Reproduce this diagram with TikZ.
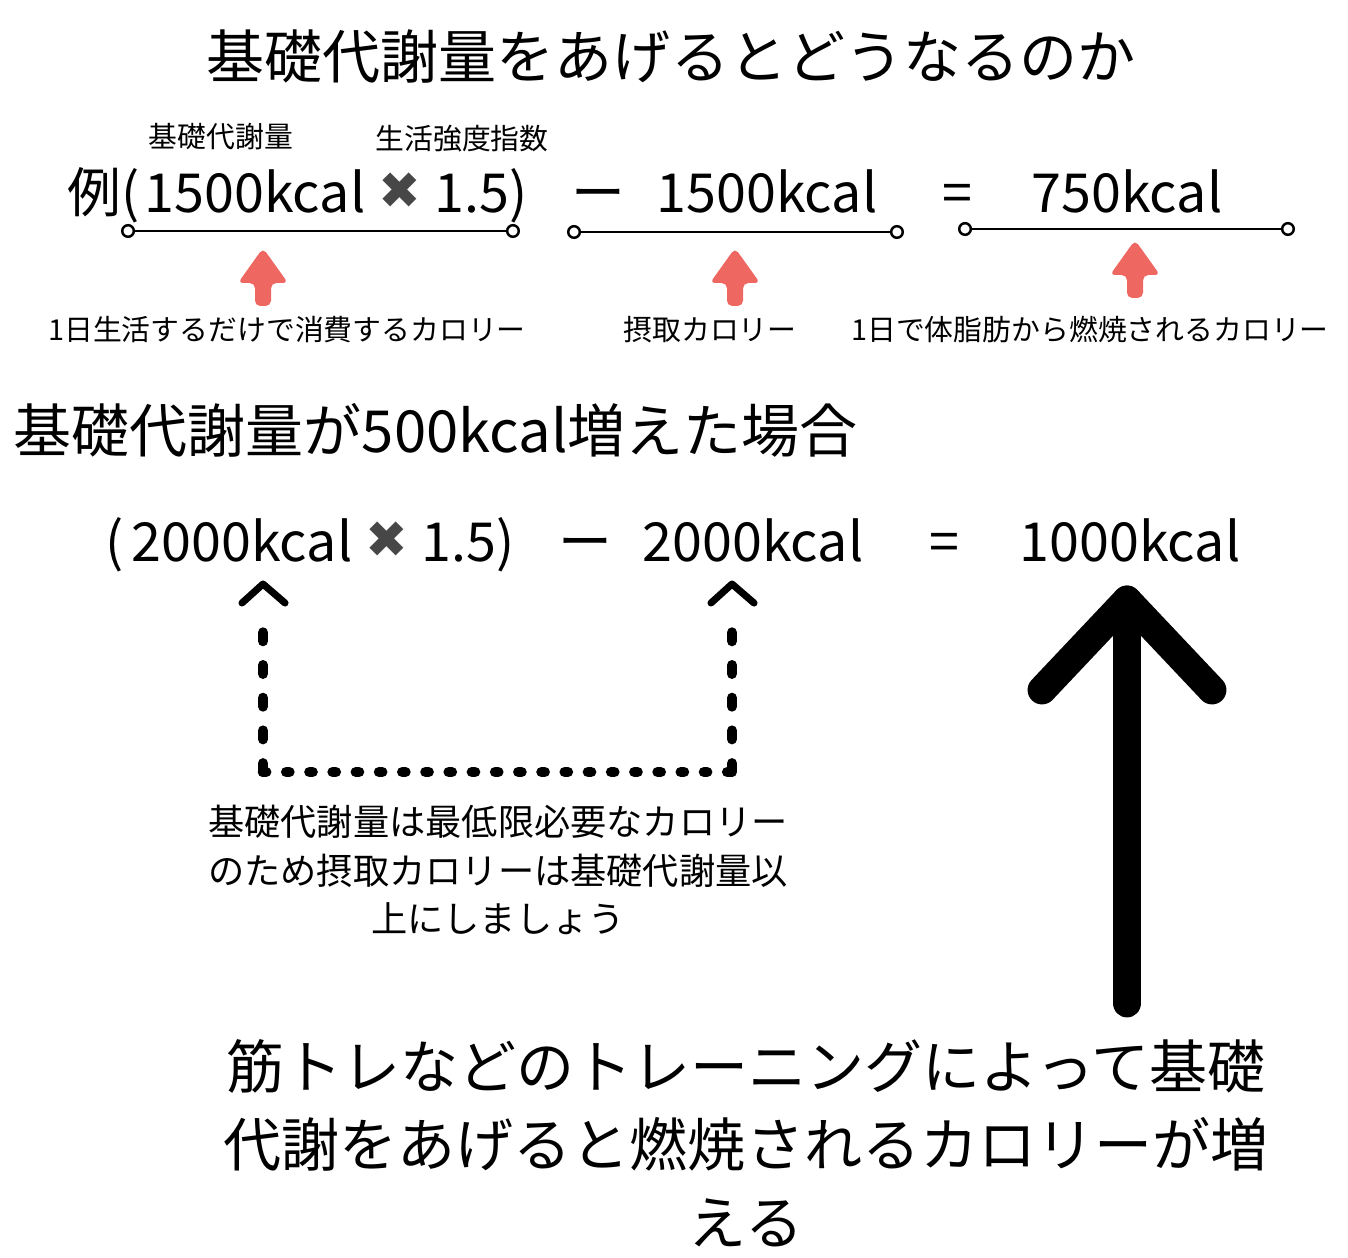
\documentclass[tikz,border=0pt]{standalone}
\usepackage{fontspec}
\setmainfont{Noto Sans CJK JP}
\newfontfamily\symfont{DejaVu Sans}
\usetikzlibrary{arrows.meta}
\definecolor{arrowred}{HTML}{EE6761}
\definecolor{crossgray}{HTML}{474747}
\tikzset{
  head/.style={font=\fontsize{16.5}{20}\selectfont, inner sep=0pt},
  formula/.style={font=\fontsize{15.3}{18}\selectfont, inner sep=0pt, anchor=base},
  tiny/.style={font=\fontsize{8.2}{10}\selectfont, inner sep=0pt},
  note/.style={font=\fontsize{10.3}{13.7}\selectfont, inner sep=0pt, align=center},
  cross/.style={font=\symfont\fontsize{14.5}{16}\selectfont, text=crossgray, inner sep=0pt, anchor=base},
  bracket/.style={line width=0.7pt, {Circle[open, fill=white, length=4pt]}-{Circle[open, fill=white, length=4pt]}},
}
\begin{document}
\begin{tikzpicture}[x=0.01cm, y=-0.01cm, line cap=round, line join=round]
  \useasboundingbox (0,0) rectangle (1348,1258);

  % title
  \node[head] (title) at (671,57) {基礎代謝量をあげるとどうなるのか};

  % example row
  \node[tiny] (lblbmr) at (221,137) {基礎代謝量};
  \node[tiny] (lblpal) at (462,139) {生活強度指数};
  \node[formula, anchor=base west] (rei) at (67,213) {例(};
  \node[formula] (kcalA) at (255,213) {1500kcal};
  \node[cross] (timesA) at (400,209) {✖};
  \node[formula] (palA) at (481,213) {1.5)};
  \node[formula] (minusA) at (598,213) {ー};
  \node[formula] (kcalB) at (767,213) {1500kcal};
  \node[formula] (eqA) at (957,213) {=};
  \node[formula] (kcalC) at (1127,213) {750kcal};

  \coordinate (ua) at (121,231);  \coordinate (ub) at (520,231);
  \coordinate (va) at (567,232);  \coordinate (vb) at (904,232);
  \coordinate (wa) at (958,229);  \coordinate (wb) at (1295,229);
  \draw[bracket] (ua) -- (ub);
  \draw[bracket] (va) -- (vb);
  \draw[bracket] (wa) -- (wb);

  \foreach \x/\y in {263/248, 735/248, 1135/240}
    \fill[arrowred, rounded corners=1.5pt] (\x,\y) -- ++(25,35) -- ++(-17,0) -- ++(0,23)
      -- ++(-16,0) -- ++(0,-23) -- ++(-17,0) -- cycle;

  \node[tiny] (lblburn) at (287,330) {1日生活するだけで消費するカロリー};
  \node[tiny] (lblin) at (710,330) {摂取カロリー};
  \node[tiny] (lblfat) at (1090,330) {1日で体脂肪から燃焼されるカロリー};

  % +500kcal case
  \node[head, anchor=west] (case) at (13,430) {基礎代謝量が500kcal増えた場合};
  \node[formula] (par) at (115,562) {(};
  \node[formula] (kcalD) at (242,562) {2000kcal};
  \node[cross] (timesB) at (387,558) {✖};
  \node[formula] (palB) at (468,562) {1.5)};
  \node[formula] (minusB) at (585,562) {ー};
  \node[formula] (kcalE) at (753,562) {2000kcal};
  \node[formula] (eqB) at (944,562) {=};
  \node[formula] (kcalF) at (1130,562) {1000kcal};

  % dotted link between the two 2000kcal
  \coordinate (dl) at (263,772);  \coordinate (dr) at (732,772);
  \coordinate (tl) at (263,612);  \coordinate (tr) at (732,612);
  \draw[line width=2.9pt, dash pattern=on 2.5pt off 6.8pt] (dl) -- (tl);
  \draw[line width=2.9pt, dash pattern=on 2.5pt off 6.8pt] (dr) -- (tr);
  \draw[line width=3pt, dash pattern=on 0.9pt off 5.7pt] (dl) -- (dr);
  \draw[line width=2pt] (242,603) -- (263,584) -- (285,603);
  \draw[line width=2pt] (711,603) -- (732,584) -- (754,603);

  \node[note] (advice) at (498,870) {基礎代謝量は最低限必要なカロリー\\のため摂取カロリーは基礎代謝量以\\上にしましょう};

  % big arrow
  \coordinate (bigbot) at (1127,1003);
  \coordinate (bigtop) at (1127,600);
  \draw[line width=8.2pt] (bigbot) -- (bigtop);
  \draw[line width=8.2pt] (1042,690) -- (bigtop) -- (1212,690);

  \node[head, align=center, font=\fontsize{16.5}{22.2}\selectfont] (result) at (746,1143)
    {筋トレなどのトレーニングによって基礎\\代謝をあげると燃焼されるカロリーが増\\える};
\end{tikzpicture}
\end{document}
